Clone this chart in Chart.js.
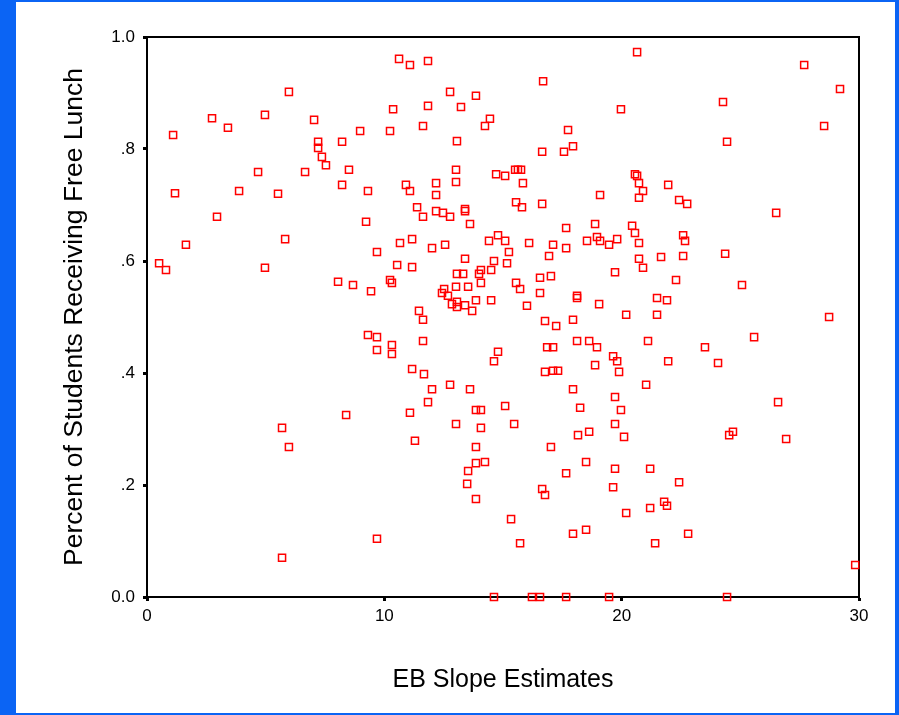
<!DOCTYPE html>
<html>
<head>
<meta charset="utf-8">
<script src="https://cdn.jsdelivr.net/npm/chart.js@4/dist/chart.umd.min.js"></script>
<style>
  html, body { margin: 0; padding: 0; }
  body { width: 899px; height: 715px; background: #0b64f4; position: relative; overflow: hidden; }
  #frame { position: absolute; left: 16px; top: 2px; width: 879px; height: 711px; background: #fff; }
</style>
</head>
<body>
<div id="frame"><canvas id="scatter" width="879" height="711"></canvas></div>
<script>
// EB slope estimate for each school
const ebSlope = [
  5.98, 2.74, 4.97, 3.41, 7.04, 1.10, 8.98, 7.21, 8.22, 7.21,
  7.37, 7.54, 4.68, 6.66, 8.51, 8.22, 1.18, 3.88, 5.52, 9.31,
  2.95, 9.23, 1.64, 5.82, 9.69, 0.51, 0.80, 4.97, 8.05, 8.68,
  9.44, 9.31, 9.69, 9.69, 8.39, 5.69, 5.98, 9.69, 5.69,
  10.62, 11.08, 11.84, 16.69, 12.77, 13.86, 10.37, 11.84, 13.23, 19.97,
  10.24, 11.63, 13.06, 14.45, 14.24, 17.74, 16.65, 17.57, 17.95, 13.02,
  13.02, 14.71, 15.09, 15.51, 15.63, 15.76, 15.84, 10.91, 11.08, 12.18,
  12.18, 19.09, 11.38, 11.63, 12.18, 12.47, 12.77, 13.40, 13.40, 15.55,
  15.80, 16.65, 13.61, 17.66, 18.88, 10.66, 11.17, 12.01, 12.56, 14.41,
  14.79, 15.09, 16.10, 17.11, 17.66, 15.25, 16.94, 18.54, 18.96, 19.09,
  19.47, 19.81, 13.40, 14.62, 15.17, 10.54, 11.17, 13.06, 13.32, 13.99,
  14.07, 14.50, 14.07, 10.24, 10.32, 15.55, 15.72, 16.56, 17.02, 19.72,
  12.52, 12.43, 12.68, 13.02, 13.53, 12.85, 13.06, 13.06, 13.40, 13.86,
  14.50, 13.70, 16.01, 16.56, 18.12, 18.12, 19.05, 11.46, 11.63, 16.77,
  17.95, 20.19,
  20.65, 27.69, 29.20, 24.27, 28.53, 24.44, 20.56, 20.65, 20.73, 20.90,
  20.73, 21.96, 22.42, 22.76, 26.51, 20.44, 20.56, 20.73, 22.59, 22.67,
  20.73, 20.90, 21.66, 22.59, 24.36, 22.29, 25.07, 21.49, 21.91, 21.49, 28.74,
  17.24, 10.32, 10.32, 11.63, 14.79, 14.62, 16.86, 17.11, 18.12, 18.63,
  18.96, 19.64, 19.81, 19.89, 18.88, 11.17, 11.67, 16.77, 17.11, 17.32,
  12.01, 12.77, 13.61, 17.95, 11.84, 11.08, 13.86, 14.07, 15.09, 18.25,
  19.72, 19.97, 13.02, 14.07, 15.47, 18.16, 18.63, 19.72, 20.10, 11.29,
  13.86, 17.02, 13.86, 14.24, 13.53, 13.49, 13.86, 17.66, 18.50, 19.72,
  16.65, 16.77, 19.64, 15.34, 15.72, 17.95, 18.50, 20.19, 14.62, 16.22,
  16.56, 17.66, 19.47,
  21.11, 23.51, 25.58, 21.96, 24.06, 21.03, 26.59, 24.69, 24.53, 26.93,
  21.20, 22.42, 21.79, 21.91, 21.20, 22.80, 21.41, 29.84, 24.44
];

// share of students on free lunch, same order
const freeLunch = [
  0.902, 0.855, 0.861, 0.838, 0.852, 0.825, 0.832, 0.813, 0.813, 0.802,
  0.786, 0.771, 0.759, 0.759, 0.763, 0.736, 0.721, 0.725, 0.720, 0.725,
  0.679, 0.670, 0.629, 0.639, 0.616, 0.596, 0.584, 0.588, 0.563, 0.557,
  0.546, 0.468, 0.464, 0.441, 0.325, 0.302, 0.268, 0.104, 0.070,
  0.961, 0.950, 0.957, 0.921, 0.902, 0.895, 0.871, 0.877, 0.875, 0.871,
  0.832, 0.841, 0.814, 0.854, 0.841, 0.834, 0.795, 0.795, 0.805, 0.763,
  0.741, 0.755, 0.752, 0.763, 0.763, 0.763, 0.739, 0.736, 0.725, 0.739,
  0.718, 0.718, 0.696, 0.679, 0.689, 0.686, 0.679, 0.693, 0.689, 0.705,
  0.696, 0.702, 0.666, 0.659, 0.666, 0.632, 0.639, 0.623, 0.629, 0.636,
  0.646, 0.636, 0.632, 0.629, 0.623, 0.616, 0.609, 0.636, 0.643, 0.636,
  0.629, 0.639, 0.604, 0.600, 0.596, 0.593, 0.589, 0.577, 0.577, 0.577,
  0.584, 0.584, 0.561, 0.566, 0.561, 0.561, 0.550, 0.570, 0.573, 0.580,
  0.550, 0.543, 0.538, 0.554, 0.554, 0.523, 0.527, 0.518, 0.521, 0.530,
  0.530, 0.511, 0.520, 0.543, 0.538, 0.534, 0.523, 0.511, 0.495, 0.493,
  0.495, 0.504,
  0.973, 0.950, 0.907, 0.884, 0.841, 0.813, 0.755, 0.752, 0.739, 0.725,
  0.713, 0.736, 0.709, 0.702, 0.686, 0.663, 0.650, 0.632, 0.646, 0.636,
  0.604, 0.588, 0.607, 0.609, 0.613, 0.566, 0.557, 0.534, 0.530, 0.504, 0.500,
  0.484, 0.450, 0.434, 0.457, 0.438, 0.421, 0.446, 0.446, 0.457, 0.457,
  0.446, 0.430, 0.421, 0.402, 0.414, 0.407, 0.398, 0.402, 0.404, 0.404,
  0.371, 0.379, 0.371, 0.371, 0.348, 0.329, 0.334, 0.334, 0.341, 0.338,
  0.357, 0.334, 0.309, 0.302, 0.309, 0.289, 0.295, 0.309, 0.286, 0.279,
  0.268, 0.268, 0.239, 0.241, 0.225, 0.202, 0.175, 0.221, 0.241, 0.229,
  0.193, 0.182, 0.196, 0.139, 0.096, 0.113, 0.120, 0.150, 0, 0,
  0, 0, 0,
  0.457, 0.446, 0.464, 0.421, 0.418, 0.379, 0.348, 0.295, 0.289, 0.282,
  0.229, 0.205, 0.170, 0.163, 0.159, 0.113, 0.096, 0.057, 0
];

const xTicks = [0, 10, 20, 30];
const yTickLabels = ['0.0', '.2', '.4', '.6', '.8', '1.0'];

const points = ebSlope.map((x, i) => ({ x: x, y: freeLunch[i] }));

// box around the plot area (top and right sides aren't axes)
const plotBox = {
  id: 'plotBox',
  beforeDatasetsDraw(chart) {
    const { ctx, chartArea: a } = chart;
    ctx.save();
    ctx.strokeStyle = '#000';
    ctx.lineWidth = 2;
    ctx.strokeRect(a.left, a.top, a.right - a.left, a.bottom - a.top);
    ctx.restore();
  }
};

new Chart(document.getElementById('scatter'), {
  type: 'scatter',
  data: {
    datasets: [{
      data: points,
      pointStyle: 'rect',
      pointRadius: 5,
      borderWidth: 1.5,
      borderColor: '#ff0000',
      backgroundColor: 'rgba(0,0,0,0)',
      clip: false
    }]
  },
  options: {
    responsive: false,
    animation: false,
    events: [],
    layout: { padding: { top: 35, right: 36, left: 0, bottom: 0 } },
    plugins: { legend: { display: false }, tooltip: { enabled: false } },
    scales: {
      x: {
        type: 'linear',
        min: 0,
        max: 30,
        afterBuildTicks: (scale) => { scale.ticks = xTicks.map(v => ({ value: v })); },
        afterFit: (scale) => { scale.height = 116; },
        border: { color: '#000', width: 2 },
        grid: { drawOnChartArea: false, drawTicks: true, tickLength: 4, tickWidth: 3, tickColor: '#000' },
        ticks: { color: '#000', padding: 5, font: { family: 'Liberation Sans, Arial', size: 17 } },
        title: {
          display: true,
          text: 'EB Slope Estimates',
          color: '#000',
          font: { family: 'Liberation Sans, Arial', size: 25 },
          padding: { top: 0, bottom: 18 }
        }
      },
      y: {
        type: 'linear',
        min: 0,
        max: 1,
        ticks: {
          stepSize: 0.2,
          color: '#000',
          padding: 8,
          font: { family: 'Liberation Sans, Arial', size: 17 },
          callback: (v, i) => yTickLabels[i]
        },
        afterFit: (scale) => { scale.width = 131; },
        border: { color: '#000', width: 2 },
        grid: { drawOnChartArea: false, drawTicks: true, tickLength: 4, tickWidth: 3, tickColor: '#000' },
        title: {
          display: true,
          text: 'Percent of Students Receiving Free Lunch',
          color: '#000',
          font: { family: 'Liberation Sans, Arial', size: 26.5 },
          padding: { top: 43, bottom: 0 }
        }
      }
    }
  },
  plugins: [plotBox]
});
</script>
</body>
</html>
